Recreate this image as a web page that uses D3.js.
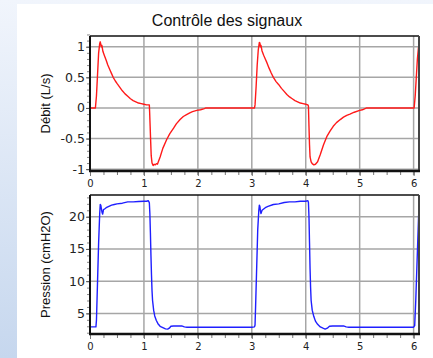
<!DOCTYPE html>
<html>
<head>
<meta charset="utf-8">
<script src="https://cdn.jsdelivr.net/npm/d3@7/dist/d3.min.js"></script>
<style>
  body { margin: 0; background: #fff; }
  text { font-family: "Liberation Sans", Arial, sans-serif; }
  .tick text { font-family: "DejaVu Sans", Verdana, sans-serif; fill: #222; }
</style>
</head>
<body>
<div id="chart"></div>
<script>
// chart text
var title = "Contrôle des signaux";
var flowLabel = "Débit (L/s)";
var presLabel = "Pression (cmH2O)";

// tick values
var xTicks = [0, 1, 2, 3, 4, 5, 6];
var flowTicks = [-1, -0.5, 0, 0.5, 1];
var presTicks = [5, 10, 15, 20];

// flow signal (L/s), time in s
var flowT = [0, 0.10, 0.12, 0.14, 0.16, 0.18, 0.19, 0.20, 0.21, 0.22, 0.24, 0.27, 0.30, 0.33, 0.37, 0.40, 0.43, 0.47, 0.50, 0.55, 0.60, 0.65, 0.70, 0.75, 0.80, 0.85, 0.90, 0.95, 1.00, 1.05, 1.10,
  1.105, 1.115, 1.125, 1.135, 1.15, 1.17, 1.19, 1.21, 1.23, 1.25, 1.30, 1.35, 1.42, 1.48, 1.55, 1.60, 1.67, 1.73, 1.79, 1.85, 1.90, 1.98, 2.05, 2.12, 2.15, 3.05,
  3.06, 3.08, 3.10, 3.12, 3.14, 3.15, 3.16, 3.17, 3.19, 3.22, 3.25, 3.28, 3.32, 3.36, 3.40, 3.45, 3.50, 3.55, 3.60, 3.65, 3.70, 3.75, 3.80, 3.85, 3.90, 3.95, 4.00, 4.04,
  4.05, 4.06, 4.07, 4.08, 4.10, 4.12, 4.15, 4.18, 4.22, 4.27, 4.33, 4.39, 4.45, 4.51, 4.57, 4.64, 4.70, 4.76, 4.82, 4.90, 5.00, 5.05, 5.10, 5.13, 6.01, 6.03, 6.05, 6.07, 6.09, 6.10];
var flowV = [0, 0, 0.2, 0.55, 0.9, 1.05, 1.08, 1.04, 1.0, 1.02, 0.92, 0.85, 0.78, 0.70, 0.62, 0.56, 0.50, 0.44, 0.40, 0.34, 0.28, 0.23, 0.19, 0.15, 0.12, 0.10, 0.08, 0.07, 0.06, 0.05, 0.05,
  -0.05, -0.3, -0.55, -0.78, -0.90, -0.94, -0.92, -0.93, -0.91, -0.92, -0.80, -0.66, -0.52, -0.42, -0.33, -0.26, -0.19, -0.14, -0.11, -0.08, -0.06, -0.04, -0.03, -0.01, 0, 0,
  0.05, 0.35, 0.70, 0.95, 1.07, 1.06, 1.0, 1.02, 0.93, 0.86, 0.80, 0.74, 0.65, 0.57, 0.50, 0.43, 0.38, 0.32, 0.27, 0.22, 0.18, 0.15, 0.12, 0.10, 0.08, 0.07, 0.06, 0.05,
  0.03, -0.3, -0.6, -0.8, -0.88, -0.91, -0.93, -0.92, -0.88, -0.76, -0.60, -0.47, -0.38, -0.30, -0.24, -0.19, -0.15, -0.12, -0.10, -0.07, -0.04, -0.03, -0.01, 0, 0, 0.2, 0.5, 0.8, 0.98, 1.03];

// pressure signal (cmH2O), time in s
var presT = [0, 0.11, 0.12, 0.14, 0.16, 0.18, 0.19, 0.20, 0.21, 0.225, 0.235, 0.25, 0.27, 0.30, 0.35, 0.40, 0.45, 0.50, 0.60, 0.70, 0.80, 0.90, 1.00, 1.05, 1.08,
  1.10, 1.11, 1.12, 1.13, 1.14, 1.15, 1.16, 1.18, 1.20, 1.23, 1.26, 1.30, 1.35, 1.40, 1.44, 1.47, 1.50, 1.55, 1.70, 1.75, 1.80, 2.00, 2.50, 3.00, 3.05,
  3.06, 3.07, 3.09, 3.11, 3.13, 3.14, 3.15, 3.16, 3.17, 3.19, 3.22, 3.25, 3.30, 3.40, 3.50, 3.60, 3.70, 3.80, 3.90, 4.00, 4.04,
  4.05, 4.06, 4.07, 4.08, 4.09, 4.10, 4.12, 4.15, 4.18, 4.22, 4.27, 4.32, 4.36, 4.40, 4.44, 4.50, 4.70, 4.75, 4.80, 5.50, 6.00, 6.02, 6.04, 6.06, 6.08, 6.10];
var presV = [2.9, 2.9, 4, 10, 16, 20.5, 21.9, 21.8, 21.3, 20.6, 20.4, 21.1, 21.2, 21.4, 21.6, 21.8, 21.9, 22.0, 22.1, 22.3, 22.3, 22.35, 22.4, 22.4, 22.5,
  22.2, 20.5, 17.5, 14, 11, 8.5, 7, 5.5, 4.6, 3.9, 3.4, 3.0, 2.8, 2.6, 2.55, 2.7, 3.0, 3.05, 3.05, 2.9, 2.85, 2.85, 2.85, 2.85, 2.9,
  3.2, 6, 12, 18, 21, 21.8, 21.6, 20.9, 20.5, 21.0, 21.2, 21.4, 21.6, 21.9, 22.0, 22.2, 22.3, 22.3, 22.4, 22.4, 22.5,
  22.2, 20, 16, 12, 9, 7, 5.5, 4.5, 3.8, 3.3, 2.9, 2.7, 2.55, 2.7, 3.0, 3.05, 3.05, 2.9, 2.85, 2.85, 2.85, 3.1, 7, 12, 17, 21.8];

var W = 433, H = 358;
var left = 90, right = 419;

var svg = d3.select("#chart").append("svg")
  .attr("width", W)
  .attr("height", H);

// slide background: blue strip on the left
var grad = svg.append("defs").append("linearGradient")
  .attr("id", "bg").attr("x1", 0).attr("y1", 0).attr("x2", 0).attr("y2", 1);
grad.append("stop").attr("offset", "0%").attr("stop-color", "#f1f5fc");
grad.append("stop").attr("offset", "100%").attr("stop-color", "#c6d7ee");
svg.append("rect").attr("width", W).attr("height", H).attr("fill", "url(#bg)");
svg.append("rect").attr("x", 17).attr("y", 4).attr("width", W - 17).attr("height", H - 4).attr("fill", "#fff");

svg.append("text")
  .attr("x", 227).attr("y", 26)
  .attr("text-anchor", "middle")
  .style("font-size", "16px")
  .attr("fill", "#111")
  .text(title);

var x = d3.scaleLinear().domain([0, 6.1]).range([left, right]);

/* draws one panel: grid, axes, frame and the signal line */
function drawPanel(p) {
  var y = d3.scaleLinear().domain(p.domain).range([p.bottom, p.top]);
  var g = svg.append("g");

  // grid
  g.selectAll(".vgrid").data(xTicks.filter(function(d) { return d > 0; }))
    .enter().append("line")
    .attr("x1", function(d) { return x(d); }).attr("x2", function(d) { return x(d); })
    .attr("y1", p.top).attr("y2", p.bottom + 4)
    .attr("stroke", "#a6a6a6").attr("stroke-width", 1.5);
  g.selectAll(".hgrid").data(p.ticks)
    .enter().append("line")
    .attr("x1", left).attr("x2", right)
    .attr("y1", function(d) { return y(d); }).attr("y2", function(d) { return y(d); })
    .attr("stroke", "#a6a6a6").attr("stroke-width", 1.5);

  // minor ticks
  g.append("g")
    .attr("transform", "translate(0," + p.bottom + ")")
    .call(d3.axisBottom(x).tickValues(d3.range(0, 6.1, 0.25)).tickSize(4).tickFormat(""))
    .call(function(a) { a.select(".domain").remove(); a.selectAll("line").attr("stroke", "#777"); });
  g.append("g")
    .attr("transform", "translate(" + left + ",0)")
    .call(d3.axisLeft(y).tickValues(d3.range(p.domain[0], p.domain[1], p.minor).map(function(v) { return Math.round(Math.ceil(v / p.minor) * p.minor * 100) / 100; })).tickSize(3).tickFormat(""))
    .call(function(a) { a.select(".domain").remove(); a.selectAll("line").attr("stroke", "#888"); });

  // major axes with labels
  g.append("g")
    .attr("transform", "translate(0," + p.bottom + ")")
    .call(d3.axisBottom(x).tickValues(xTicks).tickSize(5).tickPadding(p.xpad).tickFormat(d3.format("d")))
    .call(function(a) {
      a.select(".domain").remove();
      a.selectAll("line").attr("stroke", "#777");
      a.selectAll("text").style("font-size", "10px");
    });
  g.append("g")
    .attr("transform", "translate(" + left + ",0)")
    .call(d3.axisLeft(y).tickValues(p.ticks).tickSize(4).tickPadding(1).tickFormat(function(d) { return String(d); }))
    .call(function(a) {
      a.select(".domain").remove();
      a.selectAll("line").attr("stroke", "#555");
      a.selectAll("text").style("font-size", "12.5px");
    });

  // axis title
  g.append("text")
    .attr("transform", "translate(45," + ((p.top + p.bottom) / 2) + ") rotate(-90)")
    .attr("text-anchor", "middle")
    .attr("dy", "0.35em")
    .style("font-size", "13px")
    .attr("fill", "#111")
    .text(p.label);

  // signal
  var pts = p.t.map(function(t, i) { return [t, p.v[i]]; });
  g.append("path")
    .datum(pts)
    .attr("fill", "none")
    .attr("stroke", p.color)
    .attr("stroke-width", 1.4)
    .attr("stroke-linejoin", "round")
    .attr("d", d3.line().x(function(d) { return x(d[0]); }).y(function(d) { return y(d[1]); }));

  // frame
  g.append("line").attr("x1", left).attr("x2", right).attr("y1", p.top).attr("y2", p.top)
    .attr("stroke", "#111").attr("stroke-width", 1.5);
  g.append("line").attr("x1", right).attr("x2", right).attr("y1", p.top).attr("y2", p.bottom)
    .attr("stroke", "#444").attr("stroke-width", 2);
  g.append("line").attr("x1", left).attr("x2", left).attr("y1", p.top).attr("y2", p.bottom)
    .attr("stroke", "#111").attr("stroke-width", 2);
  g.append("line").attr("x1", left - 1).attr("x2", right + 1).attr("y1", p.bottom).attr("y2", p.bottom)
    .attr("stroke", "#111").attr("stroke-width", 2.5);
}

drawPanel({ top: 36, bottom: 171, domain: [-1.03, 1.175], ticks: flowTicks, minor: 0.1,
  t: flowT, v: flowV, color: "#ff1a1a", label: flowLabel, xpad: 3.5 });
drawPanel({ top: 195, bottom: 334, domain: [1.8, 23.37], ticks: presTicks, minor: 1,
  t: presT, v: presV, color: "#1f1fff", label: presLabel, xpad: 4 });
</script>
</body>
</html>
